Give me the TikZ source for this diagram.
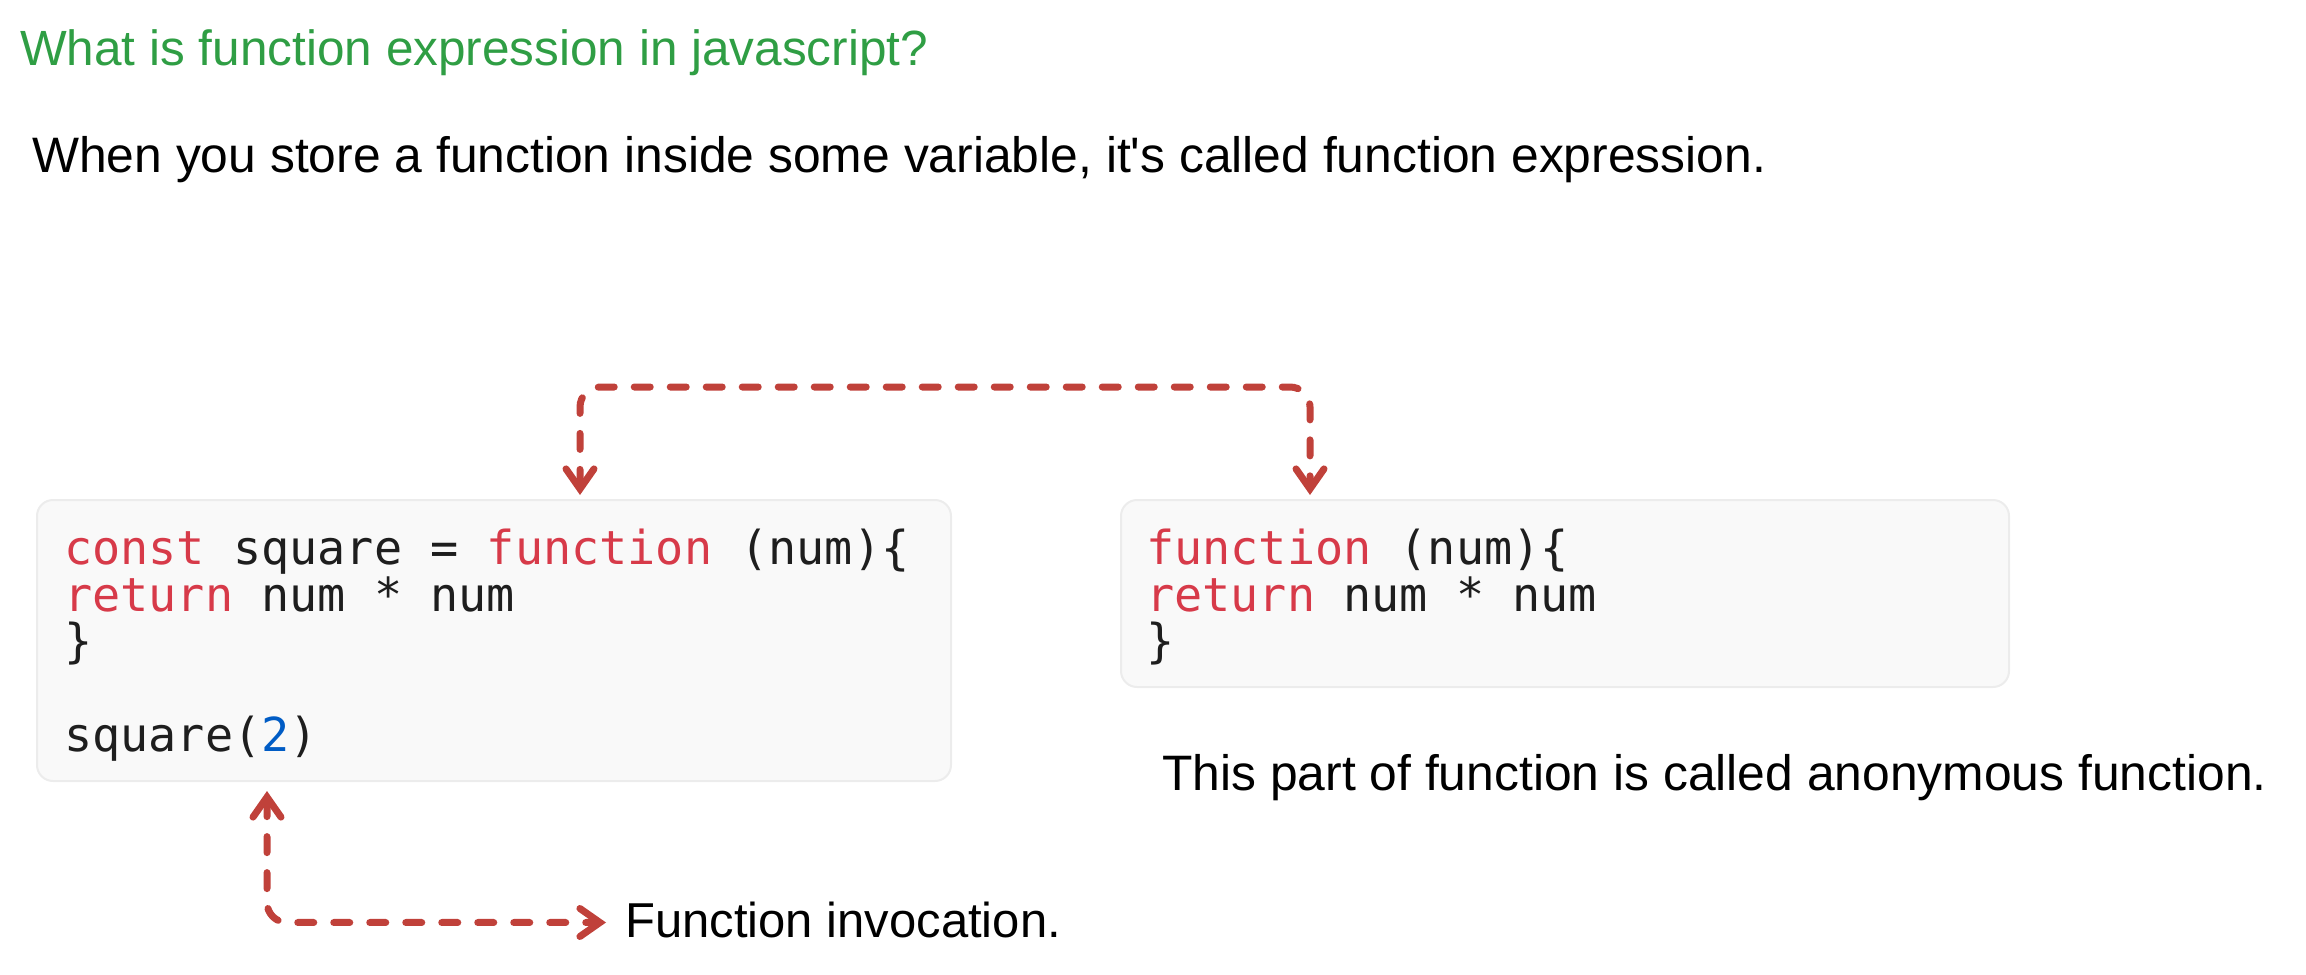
\documentclass[tikz,border=0pt]{standalone}
\usepackage{fontspec}
\setmainfont{Liberation Sans}
\newfontfamily\codefont{DejaVu Sans Mono}
\usetikzlibrary{arrows.meta}

\definecolor{titlegreen}{HTML}{2F9E44}
\definecolor{linkred}{HTML}{C0413A}
\definecolor{kwred}{HTML}{D73A49}
\definecolor{numblue}{HTML}{005CC5}
\definecolor{codeink}{HTML}{1E1E1E}
\definecolor{boxfill}{HTML}{F9F9F9}
\definecolor{boxline}{HTML}{ECECEC}

\newcommand{\kw}[1]{\textcolor{kwred}{#1}}

\tikzset{
  codebox/.style={draw=boxline, fill=boxfill, line width=2pt, rounded corners=16pt, inner sep=0pt},
  codeline/.style={anchor=base west, inner sep=0pt, text=codeink,
    font=\codefont\fontsize{46.8}{46.8}\selectfont},
  note/.style={anchor=base west, inner sep=0pt, font=\fontsize{49.8}{49.8}\selectfont},
  link/.style={draw=linkred, line width=7pt, line cap=round, dash pattern=on 16pt off 20pt,
    rounded corners=20pt,
    {Straight Barb[length=20pt,width=28pt,line cap=round]}-{Straight Barb[length=20pt,width=28pt,line cap=round]}}
}

\begin{document}
\begin{tikzpicture}[x=1pt, y=-1pt]
  % page: 2306 x 974 px, y grows downwards
  \useasboundingbox (0,0) rectangle (2306,974);

  % heading and explanation
  \node[note, text=titlegreen, font=\fontsize{49.5}{49.5}\selectfont] (title) at (20,66)
    {What is function expression in javascript?};
  \node[note] (sub) at (32,172)
    {When you store a function inside some variable, it\textquotesingle s called function expression.};

  % code blocks
  \node[codebox, minimum width=914pt, minimum height=281pt] (codeA) at (494,640.5) {};
  \node[codebox, minimum width=888pt, minimum height=187pt] (codeB) at (1565,593.5) {};

  \node[codeline] (codeA1) at (64,564) {\kw{const} square = \kw{function} (num)\{};
  \node[codeline] (codeA2) at (64,611) {\kw{return} num * num};
  \node[codeline] (codeA3) at (64,657) {\}};
  \node[codeline] (codeA5) at (64,751) {square(\textcolor{numblue}{2})};

  \node[codeline] (codeB1) at (1146,564) {\kw{function} (num)\{};
  \node[codeline] (codeB2) at (1146,611) {\kw{return} num * num};
  \node[codeline] (codeB3) at (1146,657) {\}};

  % remarks
  \node[note] (anon) at (1162,790) {This part of function is called anonymous function.};
  \node[note, font=\fontsize{49}{49}\selectfont] (invoke) at (625,937) {Function invocation.};

  % connectors
  \draw[link] ([xshift=544pt,yshift=4pt]codeA.north west) -- ++(0,-108)
    -| ([xshift=190pt,yshift=4pt]codeB.north west);
  \draw[link] ([xshift=231pt,yshift=-9pt]codeA.south west) |- ([xshift=-19pt,yshift=-3pt]invoke.west);
\end{tikzpicture}
\end{document}
